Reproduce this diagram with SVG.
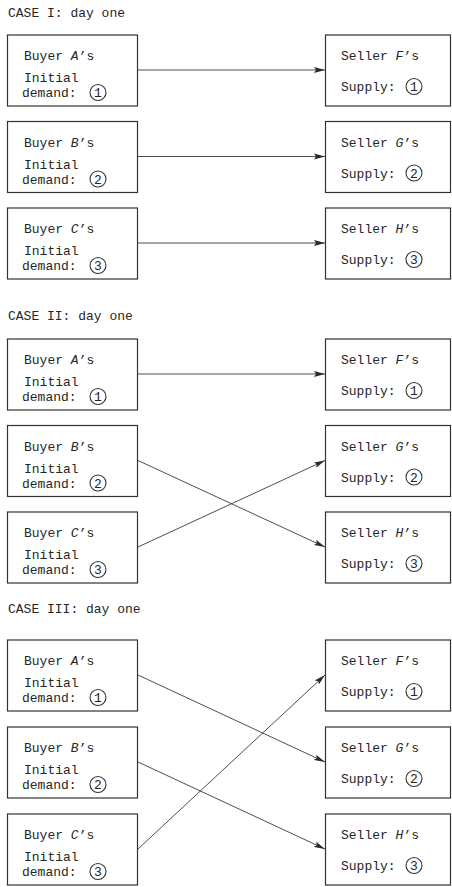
<svg xmlns="http://www.w3.org/2000/svg" width="452" height="887" viewBox="0 0 452 887">
  <style>
    text { font-family: "Liberation Mono", "DejaVu Sans Mono", monospace; font-size: 13px; fill: #262626; }
    .v { font-style: italic; }
    .num { font-size: 13px; text-anchor: middle; }
    .box { fill: #ffffff; stroke: #333333; stroke-width: 1.2; }
    .ring { fill: none; stroke: #333333; stroke-width: 1.1; }
    .link { fill: none; stroke: #3a3a3a; stroke-width: 0.9; marker-end: url(#head); }
  </style>
  <defs>
    <marker id="head" markerUnits="userSpaceOnUse" markerWidth="11" markerHeight="7" refX="11" refY="3.5" orient="auto">
      <path d="M0,0.6 L11,3.5 L0,6.4 L2,3.5 z" fill="#2a2a2a"/>
    </marker>
    <rect id="buyerCard" class="box" x="7.5" y="0" width="130" height="71"/>
    <rect id="sellerCard" class="box" x="325.5" y="0" width="125" height="71"/>
  </defs>

  <rect width="452" height="887" fill="#ffffff"/>

  <!-- ===== CASE I ===== -->
  <text x="8" y="17">CASE I: day one</text>

  <g id="c1-buyerA" transform="translate(0,35)">
    <use href="#buyerCard"/>
    <text x="24" y="25">Buyer <tspan class="v">A</tspan>’s</text>
    <text x="24" y="47">Initial</text>
    <text x="22" y="62">demand:</text>
    <circle class="ring" cx="98" cy="57.5" r="8"/>
    <text class="num" x="98" y="62">1</text>
  </g>
  <g id="c1-buyerB" transform="translate(0,121.5)">
    <use href="#buyerCard"/>
    <text x="24" y="25">Buyer <tspan class="v">B</tspan>’s</text>
    <text x="24" y="47">Initial</text>
    <text x="22" y="62">demand:</text>
    <circle class="ring" cx="98" cy="57.5" r="8"/>
    <text class="num" x="98" y="62">2</text>
  </g>
  <g id="c1-buyerC" transform="translate(0,208)">
    <use href="#buyerCard"/>
    <text x="24" y="25">Buyer <tspan class="v">C</tspan>’s</text>
    <text x="24" y="47">Initial</text>
    <text x="22" y="62">demand:</text>
    <circle class="ring" cx="98" cy="57.5" r="8"/>
    <text class="num" x="98" y="62">3</text>
  </g>
  <g id="c1-sellerF" transform="translate(0,35)">
    <use href="#sellerCard"/>
    <text x="341" y="25">Seller <tspan class="v">F</tspan>’s</text>
    <text x="341" y="56">Supply:</text>
    <circle class="ring" cx="414" cy="51.5" r="8"/>
    <text class="num" x="414" y="56">1</text>
  </g>
  <g id="c1-sellerG" transform="translate(0,121.5)">
    <use href="#sellerCard"/>
    <text x="341" y="25">Seller <tspan class="v">G</tspan>’s</text>
    <text x="341" y="56">Supply:</text>
    <circle class="ring" cx="414" cy="51.5" r="8"/>
    <text class="num" x="414" y="56">2</text>
  </g>
  <g id="c1-sellerH" transform="translate(0,208)">
    <use href="#sellerCard"/>
    <text x="341" y="25">Seller <tspan class="v">H</tspan>’s</text>
    <text x="341" y="56">Supply:</text>
    <circle class="ring" cx="414" cy="51.5" r="8"/>
    <text class="num" x="414" y="56">3</text>
  </g>

  <!-- ===== CASE II ===== -->
  <text x="8" y="320">CASE II: day one</text>

  <g id="c2-buyerA" transform="translate(0,339)">
    <use href="#buyerCard"/>
    <text x="24" y="25">Buyer <tspan class="v">A</tspan>’s</text>
    <text x="24" y="47">Initial</text>
    <text x="22" y="62">demand:</text>
    <circle class="ring" cx="98" cy="57.5" r="8"/>
    <text class="num" x="98" y="62">1</text>
  </g>
  <g id="c2-buyerB" transform="translate(0,425.5)">
    <use href="#buyerCard"/>
    <text x="24" y="25">Buyer <tspan class="v">B</tspan>’s</text>
    <text x="24" y="47">Initial</text>
    <text x="22" y="62">demand:</text>
    <circle class="ring" cx="98" cy="57.5" r="8"/>
    <text class="num" x="98" y="62">2</text>
  </g>
  <g id="c2-buyerC" transform="translate(0,512)">
    <use href="#buyerCard"/>
    <text x="24" y="25">Buyer <tspan class="v">C</tspan>’s</text>
    <text x="24" y="47">Initial</text>
    <text x="22" y="62">demand:</text>
    <circle class="ring" cx="98" cy="57.5" r="8"/>
    <text class="num" x="98" y="62">3</text>
  </g>
  <g id="c2-sellerF" transform="translate(0,339)">
    <use href="#sellerCard"/>
    <text x="341" y="25">Seller <tspan class="v">F</tspan>’s</text>
    <text x="341" y="56">Supply:</text>
    <circle class="ring" cx="414" cy="51.5" r="8"/>
    <text class="num" x="414" y="56">1</text>
  </g>
  <g id="c2-sellerG" transform="translate(0,425.5)">
    <use href="#sellerCard"/>
    <text x="341" y="25">Seller <tspan class="v">G</tspan>’s</text>
    <text x="341" y="56">Supply:</text>
    <circle class="ring" cx="414" cy="51.5" r="8"/>
    <text class="num" x="414" y="56">2</text>
  </g>
  <g id="c2-sellerH" transform="translate(0,512)">
    <use href="#sellerCard"/>
    <text x="341" y="25">Seller <tspan class="v">H</tspan>’s</text>
    <text x="341" y="56">Supply:</text>
    <circle class="ring" cx="414" cy="51.5" r="8"/>
    <text class="num" x="414" y="56">3</text>
  </g>

  <!-- ===== CASE III ===== -->
  <text x="8" y="613">CASE III: day one</text>

  <g id="c3-buyerA" transform="translate(0,640)">
    <use href="#buyerCard"/>
    <text x="24" y="25">Buyer <tspan class="v">A</tspan>’s</text>
    <text x="24" y="47">Initial</text>
    <text x="22" y="62">demand:</text>
    <circle class="ring" cx="98" cy="57.5" r="8"/>
    <text class="num" x="98" y="62">1</text>
  </g>
  <g id="c3-buyerB" transform="translate(0,727)">
    <use href="#buyerCard"/>
    <text x="24" y="25">Buyer <tspan class="v">B</tspan>’s</text>
    <text x="24" y="47">Initial</text>
    <text x="22" y="62">demand:</text>
    <circle class="ring" cx="98" cy="57.5" r="8"/>
    <text class="num" x="98" y="62">2</text>
  </g>
  <g id="c3-buyerC" transform="translate(0,814)">
    <use href="#buyerCard"/>
    <text x="24" y="25">Buyer <tspan class="v">C</tspan>’s</text>
    <text x="24" y="47">Initial</text>
    <text x="22" y="62">demand:</text>
    <circle class="ring" cx="98" cy="57.5" r="8"/>
    <text class="num" x="98" y="62">3</text>
  </g>
  <g id="c3-sellerF" transform="translate(0,640)">
    <use href="#sellerCard"/>
    <text x="341" y="25">Seller <tspan class="v">F</tspan>’s</text>
    <text x="341" y="56">Supply:</text>
    <circle class="ring" cx="414" cy="51.5" r="8"/>
    <text class="num" x="414" y="56">1</text>
  </g>
  <g id="c3-sellerG" transform="translate(0,727)">
    <use href="#sellerCard"/>
    <text x="341" y="25">Seller <tspan class="v">G</tspan>’s</text>
    <text x="341" y="56">Supply:</text>
    <circle class="ring" cx="414" cy="51.5" r="8"/>
    <text class="num" x="414" y="56">2</text>
  </g>
  <g id="c3-sellerH" transform="translate(0,814)">
    <use href="#sellerCard"/>
    <text x="341" y="25">Seller <tspan class="v">H</tspan>’s</text>
    <text x="341" y="56">Supply:</text>
    <circle class="ring" cx="414" cy="51.5" r="8"/>
    <text class="num" x="414" y="56">3</text>
  </g>

  <!-- connectors: buyer -> seller -->
  <g id="connectors">
    <line class="link" x1="138" y1="70" x2="325" y2="70"/>
    <line class="link" x1="138" y1="156.5" x2="325" y2="156.5"/>
    <line class="link" x1="138" y1="243" x2="325" y2="243"/>

    <line class="link" x1="138" y1="374" x2="325" y2="374"/>
    <line class="link" x1="138" y1="460.5" x2="325" y2="547"/>
    <line class="link" x1="138" y1="547" x2="325" y2="460.5"/>

    <line class="link" x1="138" y1="675" x2="325" y2="762"/>
    <line class="link" x1="138" y1="762" x2="325" y2="849"/>
    <line class="link" x1="138" y1="849" x2="325" y2="675"/>
  </g>
</svg>
